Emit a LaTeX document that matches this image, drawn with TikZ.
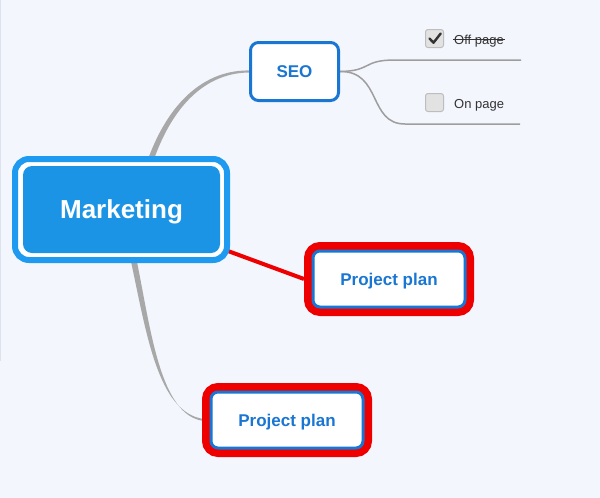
\documentclass[tikz,border=0pt]{standalone}
\usepackage{fontspec}
\setmainfont{Liberation Sans}
\usetikzlibrary{calc,backgrounds}
\definecolor{bg}{HTML}{F3F6FD}
\definecolor{edgeline}{HTML}{DDE3EE}
\definecolor{mkfill}{HTML}{1C94E6}
\definecolor{mkring}{HTML}{1E9BF0}
\definecolor{seoblue}{HTML}{1976D2}
\definecolor{pred}{HTML}{EE0000}
\definecolor{conn}{HTML}{A8A8A8}
\definecolor{branch}{HTML}{9E9E9E}
\definecolor{boxgray}{HTML}{E2E2E2}
\definecolor{boxline}{HTML}{BDBDBD}
\definecolor{txt}{HTML}{333333}
\begin{document}
\begin{tikzpicture}[x=1pt,y=-1pt,
  mkring/.style={draw=mkring, line width=6, fill=white, rounded corners=14, inner sep=0, minimum width=212, minimum height=101},
  mkcore/.style={fill=mkfill, rounded corners=9, inner sep=0, minimum width=197, minimum height=87, text=white, text depth=0pt, font=\bfseries\fontsize{26}{30}\selectfont},
  redring/.style={draw=pred, line width=8, rounded corners=12, inner sep=0, minimum width=162, minimum height=66},
  topicbox/.style={draw=seoblue, line width=3, fill=white, rounded corners=7, inner sep=0, text=seoblue, text depth=0pt, font=\bfseries\fontsize{17}{20}\selectfont},
  chkbox/.style={draw=boxline, fill=boxgray, rounded corners=2.5, minimum size=18, line width=1, inner sep=0},
  itemtext/.style={anchor=base west, inner sep=0, text=txt, font=\fontsize{13}{15}\selectfont},
  graybranch/.style={draw=branch, line width=1.5}
]
\useasboundingbox (0,0) rectangle (600,498);

% nodes
\node[mkring] (mkout) at (121,209.5) {};
\node[mkcore] (mk) at (121.5,209.5) {Marketing};

\node[topicbox, rounded corners=8, minimum width=88, minimum height=58] (seo) at (294.5,71.5) {SEO};

\node[redring] (p1out) at (389,279) {};
\node[topicbox, minimum width=152, minimum height=56] (p1) at (389,279) {Project plan};

\node[redring] (p2out) at (287,420) {};
\node[topicbox, minimum width=152, minimum height=56] (p2) at (287,420) {Project plan};

\node[chkbox] (cb1) at (434.5,38.5) {};
\node[chkbox] (cb2) at (434.5,102.5) {};
\node[itemtext] (off) at (454,44) {Off page};
\node[itemtext] (on) at (454,108) {On page};

% check mark and strike
\draw[txt, line width=2.4, line cap=round, line join=round] ($(cb1.center)+(-5,0)$) -- ++(4,4.2) -- ++(7.2,-9.2);
\draw[txt, line width=1] ($(off.base west)+(-1,-4.5)$) -- ($(off.base east)+(1,-4.5)$);

\coordinate (e1) at (521,60);
\coordinate (e2) at (520,124);

\begin{scope}[on background layer]
  \fill[bg] (0,0) rectangle (600,498);
  \draw[edgeline, line width=1] (0.5,0) -- (0.5,361);
  % tapered connector to SEO
  \coordinate (c1a) at ($(mkout.north)+(26,6)$);
  \coordinate (c1b) at ($(mkout.north)+(32,6)$);
  \coordinate (s1a) at ($(seo.west)+(2,-1)$);
  \coordinate (s1b) at ($(seo.west)+(2,1)$);
  \fill[conn] (c1a) .. controls (168,102) and (205,69) .. (s1a) -- (s1b)
        .. controls (207,72) and (173,104) .. (c1b) -- cycle;
  % tapered connector to lower project plan
  \coordinate (c2a) at ($(mkout.south)+(9,-6)$);
  \coordinate (c2b) at ($(mkout.south)+(15,-6)$);
  \coordinate (s2a) at ($(p2out.west)+(2,-1)$);
  \coordinate (s2b) at ($(p2out.west)+(2,1)$);
  \fill[conn] (c2a) .. controls (146,330) and (157,413) .. (s2a) -- (s2b)
        .. controls (160,416) and (151,330) .. (c2b) -- cycle;
  % red connector
  \draw[pred, line width=4] ($(mkout.south east)+(-2,-12)$) -- (p1out.west);
  % SEO branches
  \draw[graybranch] (seo.east) .. controls (372,71) and (362,60) .. (395,60) -- (e1);
  \draw[graybranch] (seo.east) .. controls (382,71) and (368,124) .. (405,124) -- (e2);
\end{scope}
\end{tikzpicture}
\end{document}
